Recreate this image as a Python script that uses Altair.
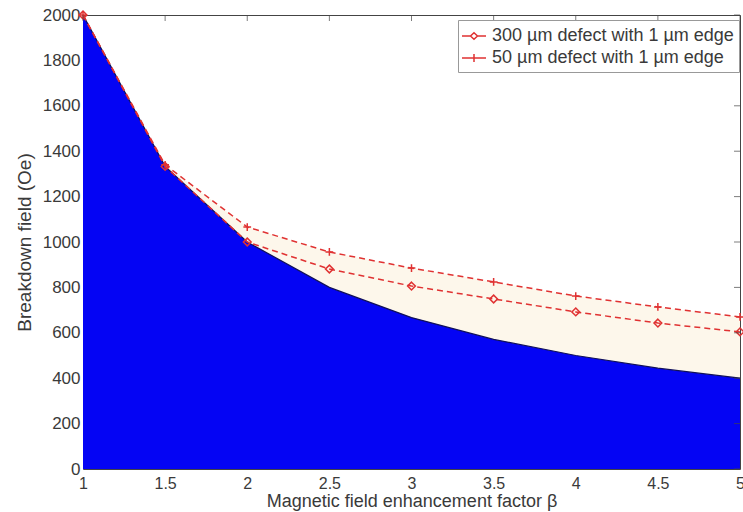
import altair as alt
import pandas as pd

# Field enhancement factor and breakdown fields (Oe)
beta = [1, 1.5, 2, 2.5, 3, 3.5, 4, 4.5, 5]
breakdown = [2000, 1333, 1000, 800, 667, 571, 500, 444, 400]
defect_50 = [2000, 1340, 1066, 956, 885, 824, 762, 714, 670]
defect_300 = [2000, 1333, 1000, 881, 806, 749, 692, 643, 604]

name_300 = "300 \u00b5m defect with 1 \u00b5m edge"
name_50 = "50 \u00b5m defect with 1 \u00b5m edge"

x_ticks = [1, 1.5, 2, 2.5, 3, 3.5, 4, 4.5, 5]
y_ticks = list(range(0, 2001, 200))

W, H = 657, 454
FONT = "Liberation Sans"
RED = "#e03232"
TEXT = "#3a3a3a"

base_df = pd.DataFrame({"beta": beta, "bd": breakdown, "d50": defect_50, "d300": defect_300})
lines_df = pd.concat([
    pd.DataFrame({"beta": beta, "field": defect_300, "series": name_300}),
    pd.DataFrame({"beta": beta, "field": defect_50, "series": name_50}),
])

xs = alt.Scale(domain=[1, 5], nice=False, zero=False)
ys = alt.Scale(domain=[0, 2000], nice=False)

x_axis = alt.Axis(values=x_ticks, format="~g", title="Magnetic field enhancement factor \u03b2",
                  ticks=False, domain=False, grid=False, labelFlush=False,
                  labelFontSize=16, labelColor=TEXT, labelPadding=6, labelFont=FONT,
                  titleFont=FONT, titleFontSize=18, titleFontWeight="normal",
                  titleColor=TEXT, titlePadding=1)
y_axis = alt.Axis(values=y_ticks, format="d", title="Breakdown field (Oe)", ticks=False,
                  domain=False, grid=False, labelFlush=False,
                  labelFontSize=17, labelColor=TEXT, labelPadding=3,
                  labelFont=FONT, titleFont=FONT, titleFontSize=19,
                  titleFontWeight="normal", titleColor=TEXT, titlePadding=8)

# Region between the breakdown curve and the upper defect curve
cream = alt.Chart(base_df).mark_area(color="#fdf7eb", opacity=1).encode(
    x=alt.X("beta:Q", scale=xs, axis=x_axis),
    y=alt.Y("d50:Q", scale=ys, axis=y_axis),
    y2="bd:Q",
)

# Filled breakdown region
blue = alt.Chart(base_df).mark_area(
    color="#0404f4", opacity=1, line={"color": "#10105a", "strokeWidth": 1.2}
).encode(
    x=alt.X("beta:Q", scale=xs),
    y=alt.Y("bd:Q", scale=ys),
)

shape_300 = "M0,-1L1,0L0,1L-1,0Z"
shape_50 = "M-1,0H1M0,-1V1"
key_300 = "M-1.2,0H-0.35M0.35,0H1.2M0,-0.33L0.35,0L0,0.33L-0.35,0Z"
key_50 = "M-1.2,0H1.2M0,-0.4V0.4"

lines = alt.Chart(lines_df).mark_line(strokeDash=[6, 4], strokeWidth=1.5, color=RED).encode(
    x=alt.X("beta:Q", scale=xs),
    y=alt.Y("field:Q", scale=ys),
    detail="series:N",
)

points = alt.Chart(lines_df).mark_point(filled=False, color=RED, size=60, strokeWidth=1.5,
                                        opacity=1).encode(
    x=alt.X("beta:Q", scale=xs),
    y=alt.Y("field:Q", scale=ys),
    shape=alt.Shape("series:N", scale=alt.Scale(domain=[name_300, name_50],
                                                range=[shape_300, shape_50]), legend=None),
)

# Legend keys: a short line with the series marker
key = alt.Chart(lines_df).mark_point(filled=False, color=RED, size=0, strokeWidth=1.5).encode(
    x=alt.X("beta:Q", scale=xs),
    y=alt.Y("field:Q", scale=ys),
    shape=alt.Shape(
        "series:N",
        scale=alt.Scale(domain=[name_300, name_50], range=[key_300, key_50]),
        legend=alt.Legend(
            title=None, orient="none", legendX=375, legendY=5,
            fillColor="white", strokeColor="#999", padding=5,
            labelFont=FONT, labelFontSize=18, labelColor=TEXT, labelLimit=400,
            symbolSize=400, symbolStrokeWidth=1.5, symbolFillColor="transparent",
            symbolStrokeColor=RED, symbolOpacity=1,
            rowPadding=2, labelOffset=7,
        ),
    ),
)

# Inward-pointing ticks on the top and right edges of the frame
top_ticks = alt.Chart(pd.DataFrame({"t": x_ticks})).mark_tick(
    color="#444", size=6, thickness=1, yOffset=3).encode(
    x=alt.X("t:Q", scale=xs), y=alt.value(0))
right_ticks = alt.Chart(pd.DataFrame({"t": y_ticks})).mark_tick(
    color="#444", size=6, thickness=1, xOffset=-3).encode(
    y=alt.Y("t:Q", scale=ys), x=alt.value(W))

chart = alt.layer(cream, blue, lines, points, key, top_ticks, right_ticks).resolve_scale(
    shape="independent"
).properties(
    width=W, height=H,
    autosize=alt.AutoSizeParams(type="none"),
    padding={"left": 83, "top": 15, "right": 3, "bottom": 43},
    background="white",
).configure_view(stroke="#444", strokeWidth=1)

chart.save("out.html", embed_options={"renderer": "svg", "actions": False})
